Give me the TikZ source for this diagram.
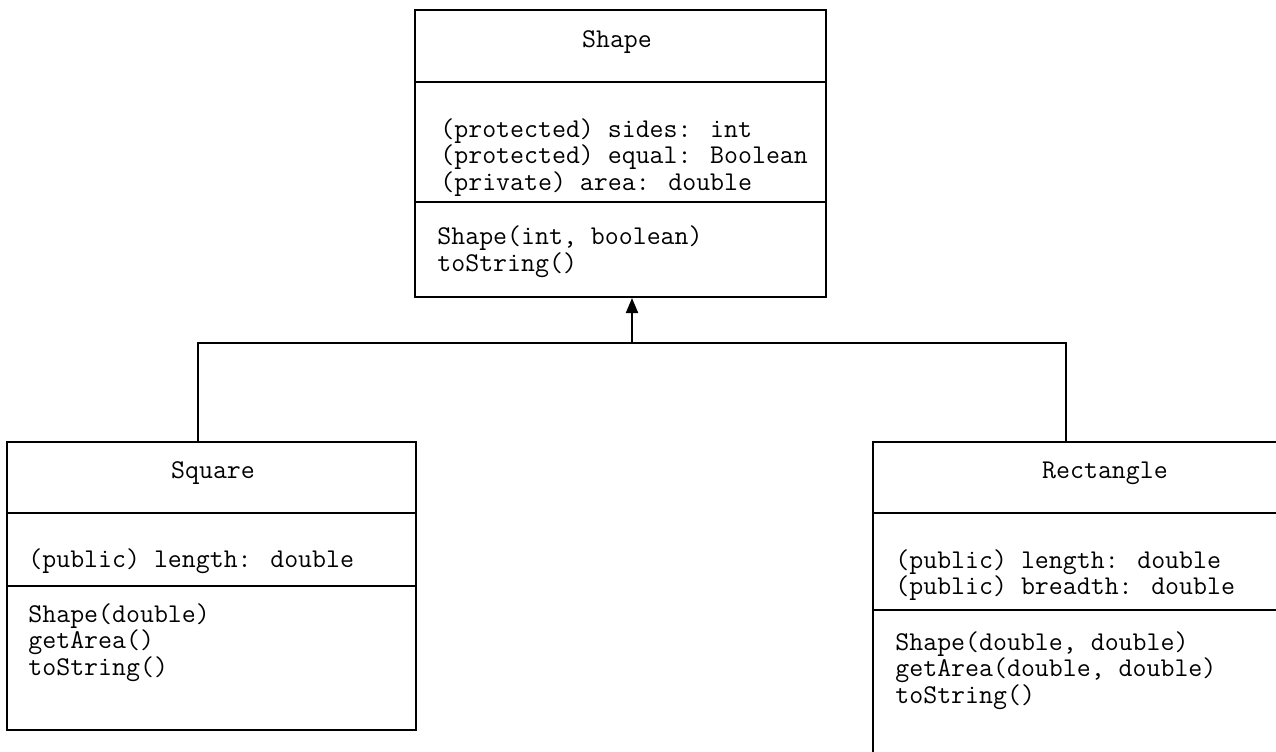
\documentclass[tikz,border=0pt]{standalone}
\usepackage{fontspec}
\usetikzlibrary{arrows.meta}
\begin{document}
\begin{tikzpicture}[x=0.5pt,y=-0.5pt,
  box/.style={draw,line width=1pt,rectangle,inner sep=0pt},
  txt/.style={inner sep=0pt,anchor=base west,align=left,font=\ttfamily\fontsize{13.55pt}{13.25pt}\selectfont},
  ttl/.style={inner sep=0pt,anchor=base,font=\ttfamily\fontsize{13.55pt}{13.25pt}\selectfont},
  link/.style={line width=1pt},
  divider/.style={line width=1pt}]
\useasboundingbox (0,0) rectangle (1276,751);
\clip (0,0) rectangle (1276,751);
\fill[white] (0,0) rectangle (1276,751);
% boxes
\node[box,minimum width=205.5pt,minimum height=143.5pt] (shape) at (620.5,153.5) {};
\node[box,minimum width=204.5pt,minimum height=144pt] (square) at (211.5,586) {};
\node[box,minimum width=220pt,minimum height=170pt] (rect) at (1093,612) {};
% dividers
\draw[divider] (shape.west |- 0,82) -- (shape.east |- 0,82);
\draw[divider] (shape.west |- 0,202) -- (shape.east |- 0,202);
\draw[divider] (square.west |- 0,513) -- (square.east |- 0,513);
\draw[divider] (square.west |- 0,586) -- (square.east |- 0,586);
\draw[divider] (rect.west |- 0,513) -- (rect.east |- 0,513);
\draw[divider] (rect.west |- 0,610) -- (rect.east |- 0,610);
% texts (anchor = baseline of the last line)
\node[ttl] (shapet) at (617,47) {Shape};
\node[txt] (shapea) at (440,190) {(protected) sides: int\\(protected) equal: Boolean\\(private) area: double};
\node[txt] (shapem) at (437,271) {Shape(int, boolean)\\toString()};
\node[ttl] (squaret) at (213,478) {Square};
\node[txt] (squarea) at (28,567) {(public) length: double};
\node[txt] (squarem) at (28,675) {Shape(double)\\getArea()\\toString()};
\node[ttl] (rectt) at (1105,478) {Rectangle};
\node[txt] (recta) at (895,594.5) {(public) length: double\\(public) breadth: double};
\node[txt] (rectm) at (895,703) {Shape(double, double)\\getArea(double, double)\\toString()};
% connectors
\coordinate (jl) at (198,343);
\coordinate (jm) at (632,343);
\coordinate (jr) at (1066,343);
\draw[link] (square.north -| jl) -- (jl) -- (jr) -- (rect.north -| jr);
\draw[link,-{Triangle[length=7.5pt,width=6pt]}] (jm) -- (shape.south -| jm);
\end{tikzpicture}
\end{document}
